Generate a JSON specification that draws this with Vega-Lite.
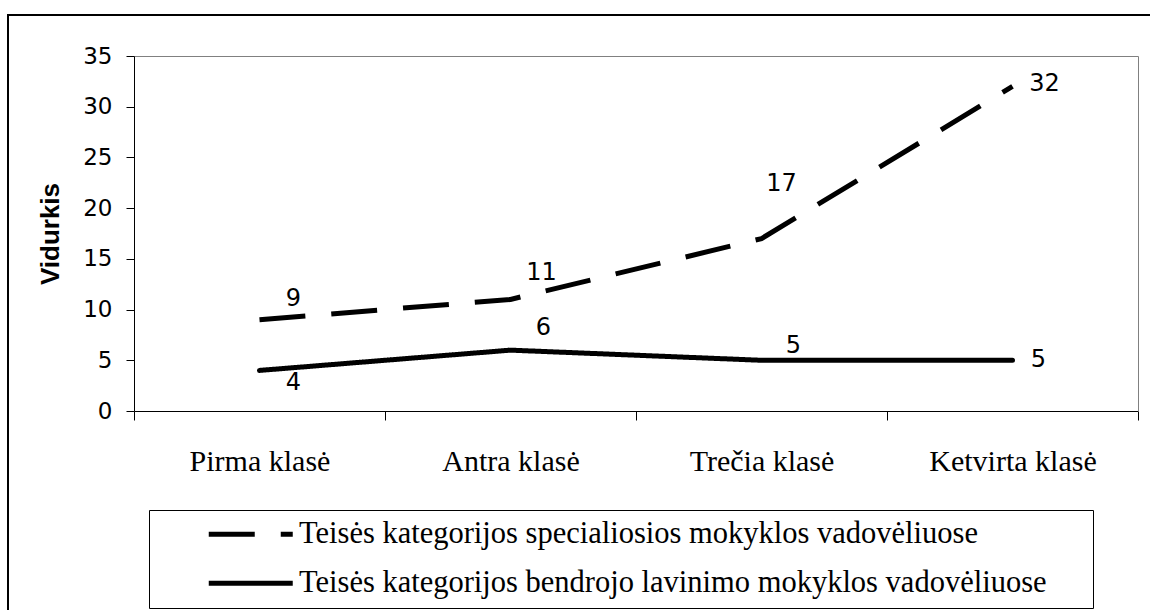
{
  "$schema": "https://vega.github.io/schema/vega-lite/v6.json",
  "width": 1145,
  "height": 598,
  "autosize": {"type": "none"},
  "padding": {"left": 8, "top": 15, "right": -3, "bottom": -3},
  "background": "white",
  "config": {
    "view": {"stroke": "black", "strokeWidth": 2, "fill": "white"},
    "axis": {"grid": false, "domainColor": "black", "tickColor": "black", "labelColor": "black", "titleColor": "black"}
  },
  "data": {
    "values": [
      {"klase": "Pirma klasė", "serija": "Teisės kategorijos specialiosios mokyklos vadovėliuose", "vidurkis": 9},
      {"klase": "Antra klasė", "serija": "Teisės kategorijos specialiosios mokyklos vadovėliuose", "vidurkis": 11},
      {"klase": "Trečia klasė", "serija": "Teisės kategorijos specialiosios mokyklos vadovėliuose", "vidurkis": 17},
      {"klase": "Ketvirta klasė", "serija": "Teisės kategorijos specialiosios mokyklos vadovėliuose", "vidurkis": 32},
      {"klase": "Pirma klasė", "serija": "Teisės kategorijos bendrojo lavinimo mokyklos vadovėliuose", "vidurkis": 4},
      {"klase": "Antra klasė", "serija": "Teisės kategorijos bendrojo lavinimo mokyklos vadovėliuose", "vidurkis": 6},
      {"klase": "Trečia klasė", "serija": "Teisės kategorijos bendrojo lavinimo mokyklos vadovėliuose", "vidurkis": 5},
      {"klase": "Ketvirta klasė", "serija": "Teisės kategorijos bendrojo lavinimo mokyklos vadovėliuose", "vidurkis": 5}
    ]
  },
  "resolve": {"axis": {"x": "independent", "y": "independent"}},
  "layer": [
    {
      "transform": [{"filter": {"field": "serija", "equal": "Teisės kategorijos specialiosios mokyklos vadovėliuose"}}],
      "mark": {"type": "line", "color": "black", "strokeWidth": 5, "strokeCap": "butt"},
      "encoding": {
        "x": {
          "field": "klase", "type": "nominal", "bandPosition": 0.5,
          "sort": ["Pirma klasė", "Antra klasė", "Trečia klasė", "Ketvirta klasė"],
          "scale": {"type": "band", "range": [126, 1130], "paddingInner": 0, "paddingOuter": 0},
          "axis": {"orient": "bottom", "offset": -202, "title": null, "tickBand": "extent", "tickSize": 9, "labelAngle": 0,
                   "labelFont": "Liberation Serif", "labelFontSize": 30, "labelBaseline": "alphabetic", "labelPadding": 50,
                   "domainColor": "black", "tickColor": "black", "labelColor": "black"}
        },
        "y": {
          "field": "vidurkis", "type": "quantitative",
          "scale": {"domain": [0, 35], "range": [396, 41], "nice": false},
          "axis": {"orient": "left", "offset": -126, "values": [0, 5, 10, 15, 20, 25, 30, 35], "tickSize": 8,
                   "labelFont": "DejaVu Sans", "labelFontSize": 23, "labelPadding": 14, "labelFlush": false, "labelOverlap": false,
                   "title": "Vidurkis", "titleFont": "Liberation Sans", "titleFontSize": 26, "titleFontWeight": "bold",
                   "titleX": -84, "titleY": 218.5, "titleAngle": -90, "titleAlign": "center", "titleBaseline": "middle"}
        },
        "strokeDash": {
          "field": "serija", "type": "nominal",
          "scale": {"domain": ["Teisės kategorijos specialiosios mokyklos vadovėliuose", "Teisės kategorijos bendrojo lavinimo mokyklos vadovėliuose"], "range": [[46, 26], [1, 0]]},
          "legend": {"orient": "none", "legendX": 141, "legendY": 495,
                     "title": "\u00a0", "titleOrient": "right", "titlePadding": 37, "titleFontSize": 10,
                     "symbolType": "M-4,0H4", "symbolSize": 441, "symbolStrokeWidth": 5, "symbolStrokeColor": "black", "symbolFillColor": "transparent",
                     "symbolOffset": 77.5, "labelOffset": 33, "labelFont": "Liberation Serif", "labelFontSize": 30.5, "labelColor": "black", "labelLimit": 2000,
                     "padding": 9, "rowPadding": 18, "strokeColor": "black", "fillColor": "white"}
        }
      }
    },
    {
      "transform": [{"filter": {"field": "serija", "equal": "Teisės kategorijos bendrojo lavinimo mokyklos vadovėliuose"}}],
      "mark": {"type": "line", "color": "black", "strokeWidth": 5, "strokeCap": "round"},
      "encoding": {
        "x": {"field": "klase", "type": "nominal", "bandPosition": 0.5,
              "sort": ["Pirma klasė", "Antra klasė", "Trečia klasė", "Ketvirta klasė"],
              "axis": {"orient": "top", "offset": -41, "title": null, "ticks": false, "labels": false, "domainColor": "#808080"}},
        "y": {"field": "vidurkis", "type": "quantitative",
              "axis": {"orient": "right", "offset": -15, "title": null, "ticks": false, "labels": false, "domainColor": "#808080"}},
        "strokeDash": {"field": "serija", "type": "nominal"}
      }
    },
    {
      "transform": [{"filter": "datum.vidurkis === 9"}],
      "mark": {"type": "text", "font": "DejaVu Sans", "fontSize": 24, "color": "black", "align": "center", "baseline": "middle", "dx": 34, "dy": -21},
      "encoding": {"x": {"field": "klase", "type": "nominal", "bandPosition": 0.5, "sort": ["Pirma klasė", "Antra klasė", "Trečia klasė", "Ketvirta klasė"], "axis": null},
                   "y": {"field": "vidurkis", "type": "quantitative", "axis": null}, "text": {"field": "vidurkis"}}
    },
    {
      "transform": [{"filter": "datum.vidurkis === 11"}],
      "mark": {"type": "text", "font": "DejaVu Sans", "fontSize": 24, "color": "black", "align": "center", "baseline": "middle", "dx": 31, "dy": -26},
      "encoding": {"x": {"field": "klase", "type": "nominal", "bandPosition": 0.5, "sort": ["Pirma klasė", "Antra klasė", "Trečia klasė", "Ketvirta klasė"], "axis": null},
                   "y": {"field": "vidurkis", "type": "quantitative", "axis": null}, "text": {"field": "vidurkis"}}
    },
    {
      "transform": [{"filter": "datum.vidurkis === 17"}],
      "mark": {"type": "text", "font": "DejaVu Sans", "fontSize": 24, "color": "black", "align": "center", "baseline": "middle", "dx": 20, "dy": -55},
      "encoding": {"x": {"field": "klase", "type": "nominal", "bandPosition": 0.5, "sort": ["Pirma klasė", "Antra klasė", "Trečia klasė", "Ketvirta klasė"], "axis": null},
                   "y": {"field": "vidurkis", "type": "quantitative", "axis": null}, "text": {"field": "vidurkis"}}
    },
    {
      "transform": [{"filter": "datum.vidurkis === 32"}],
      "mark": {"type": "text", "font": "DejaVu Sans", "fontSize": 24, "color": "black", "align": "center", "baseline": "middle", "dx": 32, "dy": -2},
      "encoding": {"x": {"field": "klase", "type": "nominal", "bandPosition": 0.5, "sort": ["Pirma klasė", "Antra klasė", "Trečia klasė", "Ketvirta klasė"], "axis": null},
                   "y": {"field": "vidurkis", "type": "quantitative", "axis": null}, "text": {"field": "vidurkis"}}
    },
    {
      "transform": [{"filter": "datum.vidurkis === 4"}],
      "mark": {"type": "text", "font": "DejaVu Sans", "fontSize": 24, "color": "black", "align": "center", "baseline": "middle", "dx": 34, "dy": 13},
      "encoding": {"x": {"field": "klase", "type": "nominal", "bandPosition": 0.5, "sort": ["Pirma klasė", "Antra klasė", "Trečia klasė", "Ketvirta klasė"], "axis": null},
                   "y": {"field": "vidurkis", "type": "quantitative", "axis": null}, "text": {"field": "vidurkis"}}
    },
    {
      "transform": [{"filter": "datum.vidurkis === 6"}],
      "mark": {"type": "text", "font": "DejaVu Sans", "fontSize": 24, "color": "black", "align": "center", "baseline": "middle", "dx": 33, "dy": -22},
      "encoding": {"x": {"field": "klase", "type": "nominal", "bandPosition": 0.5, "sort": ["Pirma klasė", "Antra klasė", "Trečia klasė", "Ketvirta klasė"], "axis": null},
                   "y": {"field": "vidurkis", "type": "quantitative", "axis": null}, "text": {"field": "vidurkis"}}
    },
    {
      "transform": [{"filter": "datum.vidurkis === 5 && datum.klase === 'Trečia klasė'"}],
      "mark": {"type": "text", "font": "DejaVu Sans", "fontSize": 24, "color": "black", "align": "center", "baseline": "middle", "dx": 32, "dy": -14},
      "encoding": {"x": {"field": "klase", "type": "nominal", "bandPosition": 0.5, "sort": ["Pirma klasė", "Antra klasė", "Trečia klasė", "Ketvirta klasė"], "axis": null},
                   "y": {"field": "vidurkis", "type": "quantitative", "axis": null}, "text": {"field": "vidurkis"}}
    },
    {
      "transform": [{"filter": "datum.vidurkis === 5 && datum.klase === 'Ketvirta klasė'"}],
      "mark": {"type": "text", "font": "DejaVu Sans", "fontSize": 24, "color": "black", "align": "center", "baseline": "middle", "dx": 26, "dy": 0},
      "encoding": {"x": {"field": "klase", "type": "nominal", "bandPosition": 0.5, "sort": ["Pirma klasė", "Antra klasė", "Trečia klasė", "Ketvirta klasė"], "axis": null},
                   "y": {"field": "vidurkis", "type": "quantitative", "axis": null}, "text": {"field": "vidurkis"}}
    }
  ]
}
